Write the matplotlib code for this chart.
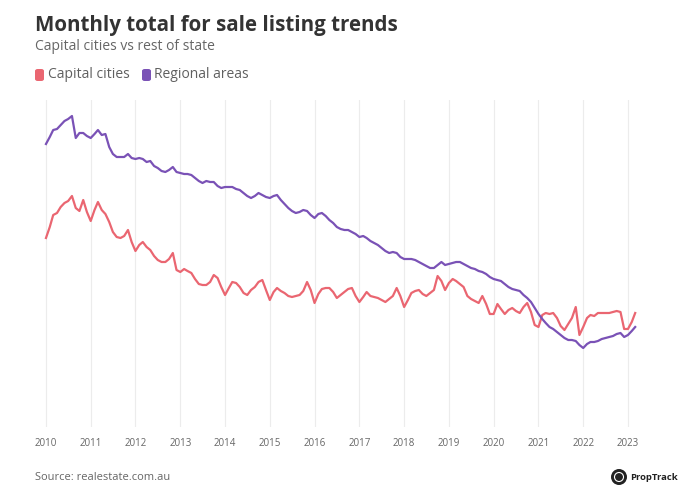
import matplotlib
matplotlib.use("Agg")
import matplotlib.pyplot as plt
from matplotlib.patches import FancyBboxPatch, Circle
import pandas as pd

# ---- data (arbitrary units, monthly Jan 2010 - Mar 2023) ----
months = pd.date_range("2010-01-01", periods=159, freq="MS")

regional_areas = [
    296, 303, 310, 311, 315, 319, 321, 324, 302, 307, 307, 304,
    302, 306, 310, 305, 306, 293, 286, 283, 283, 283, 286, 282,
    281, 282, 281, 278, 279, 274, 272, 269, 268, 270, 273, 268,
    267, 266, 266, 265, 262, 259, 257, 259, 258, 258, 254, 252,
    253, 253, 253, 251, 250, 247, 244, 242, 244, 247, 245, 243,
    242, 244, 245, 240, 236, 232, 229, 227, 228, 230, 229, 225,
    222, 226, 227, 224, 220, 217, 213, 211, 210, 210, 208, 206,
    203, 204, 202, 199, 197, 195, 192, 189, 187, 188, 187, 183,
    181, 181, 181, 180, 178, 176, 174, 172, 172, 175, 178, 175,
    176, 177, 178, 178, 176, 174, 172, 171, 169, 168, 166, 163,
    161, 160, 159, 156, 153, 151, 150, 149, 145, 142, 138, 132,
    126, 121, 117, 113, 111, 108, 105, 102, 100, 100, 99, 95,
    92, 96, 98, 98, 99, 101, 102, 103, 104, 106, 107, 103,
    105, 109, 113,
]

capital_cities = [
    202, 213, 225, 227, 233, 237, 239, 244, 232, 229, 240, 228,
    219, 230, 238, 230, 226, 218, 208, 203, 202, 204, 210, 198,
    189, 195, 198, 193, 190, 184, 180, 178, 178, 181, 187, 170,
    168, 171, 169, 167, 161, 156, 155, 155, 158, 165, 162, 153,
    145, 152, 158, 157, 153, 147, 145, 150, 153, 158, 160, 150,
    140, 148, 152, 149, 147, 144, 143, 144, 145, 149, 158, 150,
    137, 146, 151, 152, 152, 148, 142, 145, 148, 151, 152, 144,
    138, 143, 148, 144, 143, 142, 140, 138, 141, 144, 152, 144,
    133, 140, 147, 149, 150, 146, 144, 147, 150, 164, 159, 150,
    157, 161, 159, 156, 153, 144, 141, 139, 137, 144, 136, 126,
    126, 136, 131, 126, 130, 132, 129, 127, 133, 137, 128, 115,
    113, 125, 127, 126, 127, 122, 114, 110, 116, 122, 133, 105,
    113, 122, 125, 124, 127, 127, 127, 127, 128, 129, 128, 111,
    111, 118, 127,
]

year_ticks = list(range(2010, 2024))
series_names = ["Capital cities", "Regional areas"]

RED = "#EA6671"
PURPLE = "#7A52B6"

plt.rcParams["font.family"] = ["Open Sans", "DejaVu Sans"]

W, H = 682, 496
fig = plt.figure(figsize=(W / 100, H / 100), dpi=100)
fig.patch.set_facecolor("white")
ax = fig.add_axes([38 / W, 1 - 427 / H, 607 / W, 327 / H])

ax.plot(months, capital_cities, color=RED, lw=1.6, solid_joinstyle="round", zorder=3)
ax.plot(months, regional_areas, color=PURPLE, lw=1.6, solid_joinstyle="round", zorder=3)

ax.set_xlim(pd.Timestamp("2009-10-28"), pd.Timestamp("2023-05-20"))
ax.set_ylim(13, 340)
ax.set_xticks([pd.Timestamp(f"{y}-01-01") for y in year_ticks])
ax.set_xticklabels([str(y) for y in year_ticks])
ax.tick_params(axis="x", length=0, pad=8, labelsize=7, labelcolor="#666666")
ax.set_yticks([])
ax.grid(axis="x", color="#ececec", lw=0.8, zorder=0)
for s in ax.spines.values():
    s.set_visible(False)

# Titles
fig.text(35 / W, 1 - 25 / H, "Monthly total for sale listing trends",
         fontsize=14.8, fontweight="bold", color="#333333", va="center", ha="left")
fig.text(35 / W, 1 - 46 / H, "Capital cities vs rest of state",
         fontsize=10, color="#666666", va="center", ha="left")

# Legend
leg_y = 1 - 75 / H
for x0, col, name, tx in [(35, RED, series_names[0], 48), (142, PURPLE, series_names[1], 154)]:
    p = FancyBboxPatch((x0 / W, leg_y - 6 / H), 9 / W, 12 / H,
                       boxstyle="round,pad=0,rounding_size=0.004",
                       transform=fig.transFigure, facecolor=col, edgecolor="none")
    fig.patches.append(p)
    fig.text(tx / W, leg_y, name, fontsize=10, color="#606060", va="center", ha="left")

# Source
fig.text(35 / W, 1 - 478 / H, "Source: realestate.com.au",
         fontsize=8, color="#666666", va="center", ha="left")

# PropTrack logo
fig.patches.append(Circle((619 / 100, (H - 477) / 100), 0.08,
                          transform=fig.dpi_scale_trans, facecolor="#222222", edgecolor="none"))
fig.patches.append(Circle((619 / 100, (H - 477) / 100), 0.045,
                          transform=fig.dpi_scale_trans, facecolor="none", edgecolor="white", lw=0.8))
fig.text(630 / W, 1 - 477 / H, "PropTrack", fontsize=6.8, fontweight="bold",
         color="#222222", va="center", ha="left")

fig.savefig("out.png", dpi=100, facecolor="white")
